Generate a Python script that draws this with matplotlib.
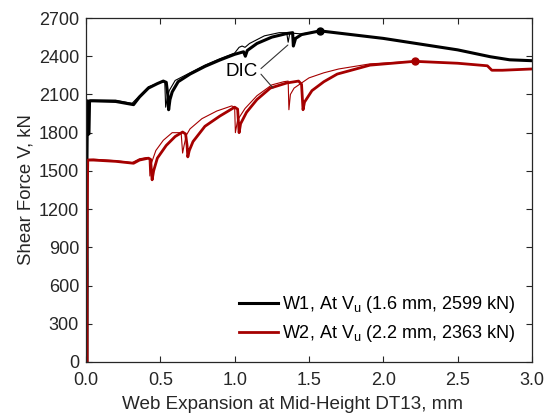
import matplotlib
matplotlib.use("Agg")
import matplotlib.pyplot as plt

# ---- data ----
w1_x = [0.006, 0.008, 0.006, 0.010, 0.013, 0.020, 0.024, 0.05, 0.20, 0.32, 0.36, 0.42, 0.48, 0.52, 0.54,
        0.550, 0.556, 0.565, 0.58, 0.62, 0.70, 0.80, 0.90, 1.00, 1.06, 1.072, 1.085, 1.15, 1.25, 1.35,
        1.39, 1.395, 1.41, 1.45, 1.574, 2.0, 2.5, 2.72, 2.85, 3.0]
w1_y = [0, 700, 1500, 2050, 1800, 1790, 2050, 2050, 2045, 2020, 2080, 2150, 2185, 2205, 2195,
        2100, 1980, 2060, 2120, 2200, 2260, 2320, 2370, 2415, 2435, 2400, 2445, 2500, 2550, 2578,
        2585, 2480, 2540, 2570, 2599, 2540, 2450, 2396, 2372, 2365]

w2_x = [0.008, 0.006, 0.010, 0.012, 0.05, 0.20, 0.32, 0.36, 0.42, 0.435, 0.440, 0.445, 0.455, 0.48,
        0.54, 0.60, 0.65, 0.67, 0.680, 0.685, 0.695, 0.72, 0.80, 0.90, 1.00, 1.02, 1.030, 1.04, 1.08,
        1.15, 1.24, 1.35, 1.43, 1.45, 1.460, 1.47, 1.52, 1.60, 1.69, 1.91, 2.21, 2.50, 2.70, 2.73,
        2.80, 3.0]
w2_y = [0, 800, 1400, 1585, 1585, 1575, 1560, 1585, 1600, 1590, 1500, 1430, 1500, 1600,
        1700, 1770, 1805, 1790, 1700, 1610, 1660, 1730, 1850, 1930, 2000, 1985, 1800, 1870, 1960,
        2060, 2150, 2190, 2205, 2180, 1980, 2040, 2130, 2200, 2260, 2330, 2360, 2345, 2325, 2290,
        2290, 2300]

# DIC (thin) curves
d1_x = [0.004, 0.006, 0.010, 0.03, 0.20, 0.31, 0.36, 0.42, 0.50, 0.53, 0.536, 0.545, 0.56, 0.60,
        0.70, 0.80, 0.90, 1.00, 1.03, 1.05, 1.07, 1.10, 1.20, 1.30, 1.35, 1.36, 1.37, 1.40, 1.45, 1.574]
d1_y = [0, 900, 2040, 2055, 2055, 2030, 2090, 2160, 2195, 2200, 2000, 2060, 2130, 2210,
        2270, 2330, 2380, 2425, 2470, 2480, 2470, 2500, 2560, 2585, 2585, 2510, 2575, 2580, 2575, 2599]

d2_x = [0.004, 0.006, 0.010, 0.05, 0.20, 0.31, 0.36, 0.41, 0.425, 0.43, 0.44, 0.47, 0.52, 0.58, 0.64,
        0.65, 0.66, 0.675, 0.70, 0.78, 0.88, 0.98, 1.00, 1.005, 1.02, 1.07, 1.15, 1.25, 1.33, 1.36,
        1.365, 1.375, 1.40, 1.50, 1.60, 1.70, 1.91, 2.21]
d2_y = [0, 900, 1590, 1592, 1580, 1565, 1595, 1605, 1595, 1460, 1560, 1660, 1740, 1800, 1800,
        1640, 1700, 1780, 1830, 1910, 1970, 2010, 2000, 1800, 1900, 1990, 2090, 2175, 2200, 2205,
        1980, 2100, 2150, 2230, 2270, 2300, 2340, 2360]

peak_x = [1.574, 2.21]
peak_y = [2599, 2363]

legend_labels = [r'W1, At V$_\mathregular{u}$ (1.6 mm, 2599 kN)',
                 r'W2, At V$_\mathregular{u}$ (2.2 mm, 2363 kN)']

x_ticks = [0.0, 0.5, 1.0, 1.5, 2.0, 2.5, 3.0]
x_ticklabels = ['0.0', '0.5', '1.0', '1.5', '2.0', '2.5', '3.0']
y_ticks = [0, 300, 600, 900, 1200, 1500, 1800, 2100, 2400, 2700]

# annotation anchor points (data coords)
dic_text_xy = (1.05, 2284)
dic_arrow1 = (1.358, 2488)
dic_arrow2 = (1.258, 2151)

# ---- style ----
plt.rcParams['font.family'] = ['Liberation Sans', 'DejaVu Sans']
plt.rcParams['mathtext.fontset'] = 'custom'
plt.rcParams['mathtext.rm'] = 'Liberation Sans'
GREY = '#262626'
RED = '#A50000'

fig = plt.figure(figsize=(5.49, 4.17), dpi=100)
ax = fig.add_axes([0.1566, 0.1319, 0.8124, 0.8249])

ax.plot(d1_x, d1_y, color='black', lw=0.8)
ax.plot(d2_x, d2_y, color=RED, lw=0.8)
l1, = ax.plot(w1_x, w1_y, color='black', lw=2.2, label=legend_labels[0])
l2, = ax.plot(w2_x, w2_y, color=RED, lw=2.0, label=legend_labels[1])
ax.plot(peak_x[0], peak_y[0], 'o', color='black', ms=5)
ax.plot(peak_x[1], peak_y[1], 'o', color=RED, ms=5)

ax.annotate('DIC', xy=dic_arrow1, xytext=dic_text_xy, ha='center', va='center',
            fontsize=13.5, color='black',
            arrowprops=dict(arrowstyle='-', color='#333333', lw=0.8, shrinkA=0, shrinkB=0,
                            relpos=(1.0, 0.5)))
ax.annotate('DIC', xy=dic_arrow2, xytext=dic_text_xy, ha='center', va='center',
            fontsize=13.5, color='none',
            arrowprops=dict(arrowstyle='-', color='#333333', lw=0.8, shrinkA=0, shrinkB=0,
                            relpos=(1.0, 0.5)))

ax.set_xlim(0, 3)
ax.set_ylim(0, 2700)
ax.set_xticks(x_ticks)
ax.set_xticklabels(x_ticklabels)
ax.set_yticks(y_ticks)
ax.tick_params(direction='in', top=True, right=True, length=4, width=0.8,
               labelsize=13, colors=GREY)
ax.tick_params(axis='x', pad=7)
ax.tick_params(axis='y', pad=5)
for s in ax.spines.values():
    s.set_color(GREY)
    s.set_linewidth(0.9)

ax.set_xlabel('Web Expansion at Mid-Height DT13, mm', fontsize=13.6, color=GREY)
ax.xaxis.set_label_coords(0.464, -0.098)
ax.set_ylabel('Shear Force V, kN', fontsize=13.4, color=GREY, labelpad=3)

leg = ax.legend(handles=[l1, l2], loc='lower right', frameon=False, fontsize=13,
                handlelength=2.2, handletextpad=0.2, labelspacing=0.45,
                bbox_to_anchor=(1.0, 0.005))

fig.savefig('out.png', dpi=100)
